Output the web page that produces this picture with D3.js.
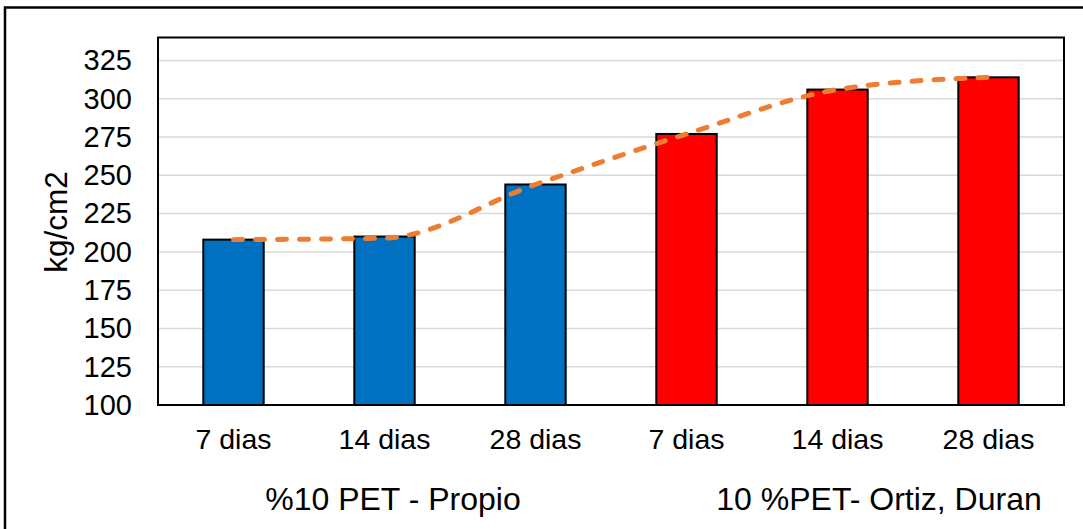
<!DOCTYPE html>
<html>
<head>
<meta charset="utf-8">
<script src="https://cdn.jsdelivr.net/npm/d3@7"></script>
<style>
  html, body { margin: 0; padding: 0; background: #fff; }
  svg { display: block; font-family: "Liberation Sans", Arial, sans-serif; }
</style>
</head>
<body>
<svg id="chart" width="1083" height="529"></svg>
<script>
// ---- data ----
const categories = ["7 dias", "14 dias", "28 dias", "7 dias ", "14 dias ", "28 dias "];
const categoryLabels = ["7 dias", "14 dias", "28 dias", "7 dias", "14 dias", "28 dias"];
const groups = ["%10 PET - Propio", "10 %PET- Ortiz, Duran"];
const groupOf = [0, 0, 0, 1, 1, 1];
const barValues = [208, 210, 244, 277, 306, 314];
const lineValues = [208, 209, 244, 277, 306, 314];
const yTicks = [100, 125, 150, 175, 200, 225, 250, 275, 300, 325];
const groupColors = ["#0070C0", "#FF0000"];

// ---- layout ----
const svg = d3.select("#chart");
const plot = { left: 158, top: 37.5, right: 1064, bottom: 405 };

const x = d3.scaleBand()
  .domain(categories)
  .range([plot.left, plot.right])
  .paddingInner(0.6)
  .paddingOuter(0.3);

const y = d3.scaleLinear()
  .domain([100, 340])
  .range([plot.bottom, plot.top]);

// outer chart border
svg.append("rect")
  .attr("x", 5).attr("y", 7.5)
  .attr("width", 1200).attr("height", 700)
  .attr("fill", "none").attr("stroke", "#000").attr("stroke-width", 2.5);

// gridlines
svg.append("g")
  .selectAll("line")
  .data(yTicks.filter(t => t > 100))
  .join("line")
  .attr("x1", plot.left).attr("x2", plot.right)
  .attr("y1", d => y(d)).attr("y2", d => y(d))
  .attr("stroke", "#d9d9d9").attr("stroke-width", 1.5);

// y axis labels
const yAxis = d3.axisLeft(y).tickValues(yTicks).tickSize(0).tickPadding(26);
const yg = svg.append("g").attr("transform", `translate(${plot.left},0)`).call(yAxis);
yg.select(".domain").remove();
yg.selectAll("text")
  .attr("font-size", 29)
  .attr("font-family", "Liberation Sans, Arial, sans-serif")
  .attr("fill", "#000");

// bars
svg.append("g")
  .selectAll("rect")
  .data(barValues)
  .join("rect")
  .attr("x", (d, i) => x(categories[i]))
  .attr("y", d => y(d))
  .attr("width", x.bandwidth())
  .attr("height", d => y(100) - y(d))
  .attr("fill", (d, i) => groupColors[groupOf[i]])
  .attr("stroke", "#000")
  .attr("stroke-width", 2);

// plot area border
svg.append("rect")
  .attr("x", plot.left).attr("y", plot.top)
  .attr("width", plot.right - plot.left).attr("height", plot.bottom - plot.top)
  .attr("fill", "none").attr("stroke", "#000").attr("stroke-width", 2);

// smoothed dashed line
const line = d3.line()
  .x((d, i) => x(categories[i]) + x.bandwidth() / 2)
  .y(d => y(d))
  .curve(d3.curveMonotoneX);

svg.append("path")
  .datum(lineValues)
  .attr("d", line)
  .attr("fill", "none")
  .attr("stroke", "#ED7D31")
  .attr("stroke-width", 5)
  .attr("stroke-dasharray", "9,13")
  .attr("stroke-linecap", "round");

// x axis category labels
const xAxis = d3.axisBottom(x).tickSize(0).tickPadding(24)
  .tickFormat((d, i) => categoryLabels[i]);
const xg = svg.append("g").attr("transform", `translate(0,${plot.bottom})`).call(xAxis);
xg.select(".domain").remove();
xg.selectAll("text")
  .attr("font-size", 28.5)
  .attr("font-family", "Liberation Sans, Arial, sans-serif")
  .attr("fill", "#000");

// group labels
const groupCenters = [393, 879];
svg.append("g")
  .selectAll("text")
  .data(groups)
  .join("text")
  .attr("x", (d, i) => groupCenters[i])
  .attr("y", 510)
  .attr("text-anchor", "middle")
  .attr("font-size", 32)
  .attr("fill", "#000")
  .text(d => d);

// y axis title
svg.append("text")
  .attr("transform", "translate(67,222) rotate(-90)")
  .attr("text-anchor", "middle")
  .attr("font-size", 31.5)
  .attr("fill", "#000")
  .text("kg/cm2");
</script>
</body>
</html>
